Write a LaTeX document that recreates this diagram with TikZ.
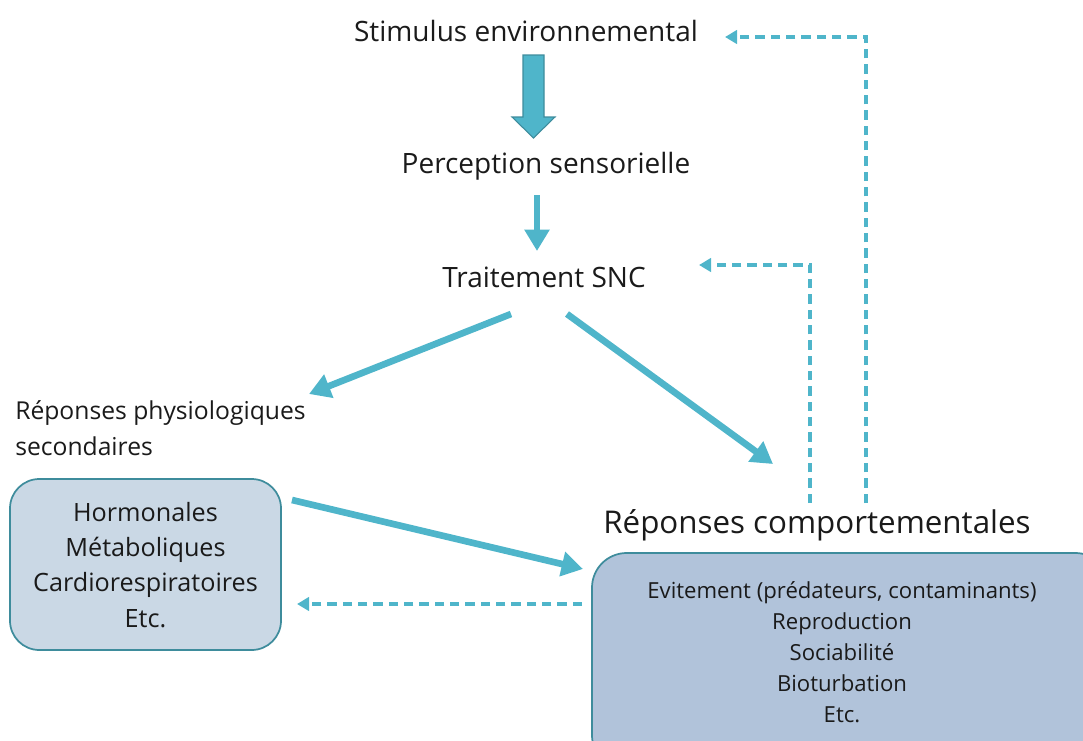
\documentclass[tikz,border=0pt]{standalone}
\usepackage{fontspec}
\setmainfont{Open Sans}
\usetikzlibrary{arrows.meta}
\definecolor{arr}{HTML}{4FB5CA}
\definecolor{bord}{HTML}{3E8C9C}
\definecolor{fillA}{HTML}{CAD8E5}
\definecolor{fillB}{HTML}{B1C3DA}
\definecolor{txt}{HTML}{1A1A1A}
\tikzset{
  lbl/.style={text=txt, inner sep=0pt, align=center},
  big/.style={lbl, font=\fontsize{21}{25}\selectfont},
  solidarr/.style={draw=arr, line width=5pt, -{Triangle[length=16pt,width=18pt]}},
  dasharr/.style={draw=arr, line width=2.8pt, dash pattern=on 7pt off 4.5pt, -{Triangle[length=9pt,width=10pt]}},
  boxA/.style={draw=bord, fill=fillA, line width=1.3pt, rounded corners=22pt},
  boxB/.style={draw=bord, fill=fillB, line width=1.3pt, rounded corners=26pt},
}
\begin{document}
\begin{tikzpicture}[x=0.75pt,y=-0.75pt]
\useasboundingbox (0,0) rectangle (1083,740);
% texts
\node[big] (stim) at (526,31) {Stimulus environnemental};
\node[big] (perc) at (546,166) {Perception sensorielle};
\node[big] (snc) at (544,277) {Traitement SNC};
\node[lbl, align=left, anchor=north west, font=\fontsize{18.5}{27}\selectfont] (phys) at (15,400) {Réponses physiologiques\\secondaires};
\node[lbl, font=\fontsize{23.5}{28}\selectfont] (comp) at (817,525) {Réponses comportementales};
% boxes
\path[boxA] (10,479) rectangle (281,650);
\node[lbl, font=\fontsize{18.9}{26.3}\selectfont] (boxphys) at (145.5,565) {Hormonales\\Métaboliques\\Cardiorespiratoires\\Etc.};
\path[boxB] (592,553) rectangle (1110,770);
\node[lbl, font=\fontsize{16.6}{23.3}\selectfont] (boxcomp) at (842,652) {Evitement (prédateurs, contaminants)\\Reproduction\\Sociabilité\\Bioturbation\\Etc.};
% block arrow
\fill[arr, draw=bord, line width=0.8pt] (523,55) -- (544,55) -- (544,117) -- (555,117) -- (533.5,138) -- (512,117) -- (523,117) -- cycle;
% solid arrows
\coordinate (a1s) at (537,195); \coordinate (a1e) at (537,251);
\draw[draw=arr, line width=4.5pt, -{Triangle[length=16pt,width=18pt]}] (a1s) -- (a1e);
\coordinate (a2s) at (511,314); \coordinate (a2e) at (309,394);
\draw[solidarr] (a2s) -- (a2e);
\coordinate (a3s) at (567,314); \coordinate (a3e) at (773,464);
\draw[solidarr] (a3s) -- (a3e);
\coordinate (a4s) at (292,500); \coordinate (a4e) at (583,569);
\draw[solidarr] (a4s) -- (a4e);
% dashed feedback
\coordinate (d1s) at (582,604); \coordinate (d1e) at (297,604);
\draw[dasharr] (d1s) -- (d1e);
\coordinate (d2s) at (810,503); \coordinate (d2c) at (810,265); \coordinate (d2e) at (699,265);
\draw[dasharr] (d2s) -- (d2c) -- (d2e);
\coordinate (d3s) at (866,503); \coordinate (d3c) at (866,37); \coordinate (d3e) at (725,37);
\draw[dasharr] (d3s) -- (d3c) -- (d3e);
\end{tikzpicture}
\end{document}
